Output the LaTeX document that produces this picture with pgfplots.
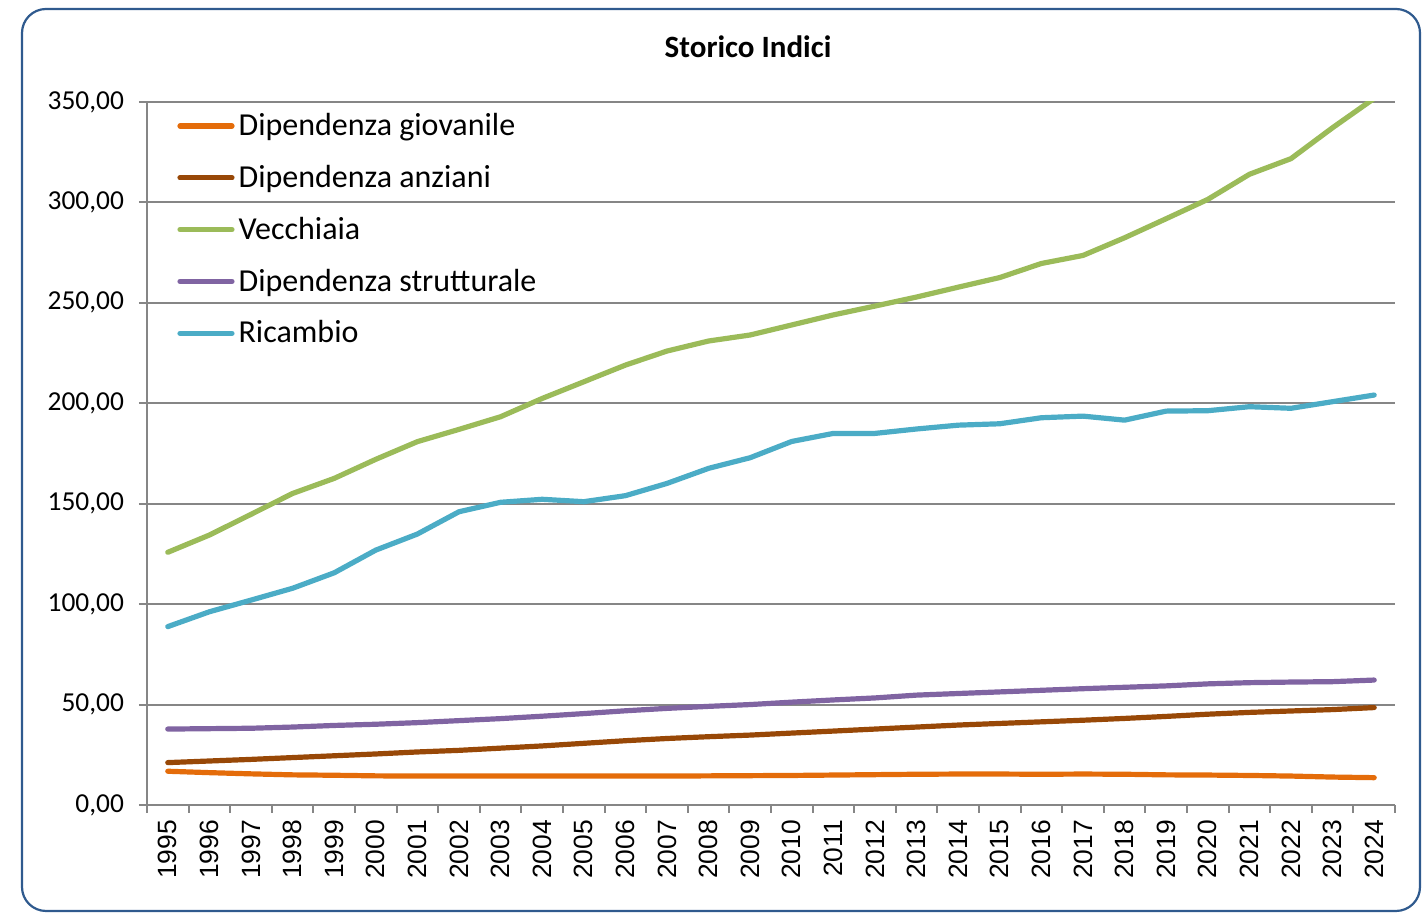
\documentclass[border=0pt]{standalone}
\usepackage{pgfplots}
\usepackage{pgfplotstable}
\pgfplotsset{compat=1.18}
\usepackage{fontspec}
\setmainfont{Carlito}
\newfontfamily\arialfont{Liberation Sans}
\definecolor{cOrange}{HTML}{E46C0A}
\definecolor{cBrown}{HTML}{984807}
\definecolor{cGreen}{HTML}{9BBB59}
\definecolor{cPurple}{HTML}{8064A2}
\definecolor{cBlue}{HTML}{4BACC6}
\definecolor{cGrid}{HTML}{868686}
\definecolor{cFrame}{HTML}{2F5A8E}
\pgfplotstableread{
i giov anz vec strut ric
0 16.8 21.1 125.8 37.8 88.8
1 16.1 21.9 134.4 38.0 96.2
2 15.5 22.7 144.7 38.2 102.0
3 15.0 23.6 155.1 38.8 107.9
4 14.8 24.5 162.6 39.6 115.6
5 14.5 25.4 172.1 40.2 126.9
6 14.4 26.4 180.9 41.0 134.9
7 14.4 27.2 187.0 42.0 146.0
8 14.4 28.3 193.3 43.0 150.7
9 14.4 29.4 202.4 44.2 152.2
10 14.4 30.7 210.7 45.5 151.0
11 14.4 32.0 219.0 46.9 154.0
12 14.4 33.1 226.0 48.1 160.1
13 14.5 34.0 231.0 49.1 167.6
14 14.6 34.8 234.0 50.0 172.9
15 14.7 35.8 239.0 51.2 181.0
16 14.9 36.8 244.0 52.3 185.0
17 15.1 37.8 248.4 53.3 185.0
18 15.3 38.8 252.9 54.7 187.2
19 15.4 39.8 257.8 55.5 189.1
20 15.4 40.6 262.6 56.3 189.8
21 15.3 41.4 269.6 57.1 192.8
22 15.4 42.2 273.6 57.9 193.6
23 15.3 43.1 282.4 58.6 191.6
24 15.0 44.1 291.9 59.3 196.1
25 14.9 45.2 301.5 60.3 196.3
26 14.7 46.1 314.0 60.9 198.3
27 14.4 46.8 321.8 61.2 197.5
28 13.9 47.5 337.2 61.4 200.8
29 13.6 48.5 351.8 62.2 204.1
}\data
\begin{document}
\begin{tikzpicture}
\useasboundingbox (-73.5pt,-54pt) rectangle (639.5pt,402.5pt);
\draw[cFrame, line width=1.1pt, rounded corners=12pt] (-62.5pt,-53pt) rectangle (636.5pt,398pt);
\node[font=\bfseries\fontsize{15.5}{18}\selectfont] at (300.5pt,379pt) {Storico Indici};
\begin{axis}[
  at={(0,0)}, anchor=south west,
  width=624pt, height=351.5pt, scale only axis,
  xmin=-0.5, xmax=29.5, ymin=0, ymax=350,
  axis x line*=bottom, axis y line*=left,
  axis line style={draw=cGrid, line width=1pt, -},
  ytick={0,50,...,350},
  ymajorgrids, grid style={cGrid, line width=1pt},
  tick align=outside,
  major tick length=4pt, minor tick length=4pt,
  tick style={cGrid, line width=1pt},
  xtick={0,...,29},
  xticklabels={1995,1996,1997,1998,1999,2000,2001,2002,2003,2004,2005,2006,2007,2008,2009,2010,2011,2012,2013,2014,2015,2016,2017,2018,2019,2020,2021,2022,2023,2024},
  major x tick style={draw=none},
  minor xtick={-0.5,0.5,...,29.5},
  xticklabel style={rotate=90, anchor=east, font=\arialfont\fontsize{13.2}{15}\selectfont},
  yticklabel style={font=\fontsize{13.7}{16}\selectfont, xshift=-4pt},
  /pgf/number format/.cd, fixed, fixed zerofill, precision=2, use comma, assume math mode=true,
  /pgfplots/.cd,
  legend cell align=left,
  legend image code/.code={\draw (0pt,0pt) -- (26pt,0pt);},
  legend style={draw=none, fill=none, at={(0,1)}, anchor=north west, xshift=12pt, yshift=-1.5pt,
    font=\fontsize{16}{19}\selectfont, row sep=9.3pt},
  every axis plot/.append style={line width=2.6pt, line join=round, line cap=round, no markers},
]
\addplot[cOrange] table[x=i, y=giov] {\data};
\addlegendentry{Dipendenza giovanile}
\addplot[cBrown] table[x=i, y=anz] {\data};
\addlegendentry{Dipendenza anziani}
\addplot[cGreen] table[x=i, y=vec] {\data};
\addlegendentry{Vecchiaia}
\addplot[cPurple] table[x=i, y=strut] {\data};
\addlegendentry{Dipendenza strutturale}
\addplot[cBlue] table[x=i, y=ric] {\data};
\addlegendentry{Ricambio}
\end{axis}
\end{tikzpicture}
\end{document}
